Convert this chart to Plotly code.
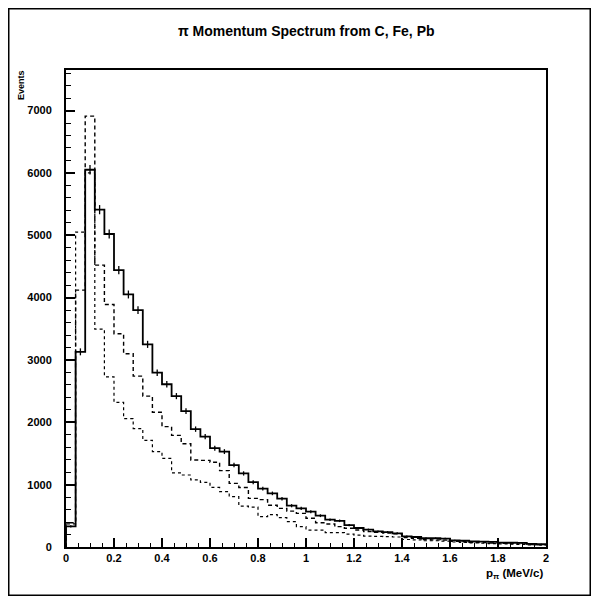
import numpy as np
import plotly.graph_objects as go

# Binning
x_min = 0.0
bin_width = 0.04
n_bins = 50

# Histogram contents
solid_counts = [330, 3130, 6050, 5410, 5020, 4440, 4050, 3800, 3250, 2795,
                2610, 2420, 2180, 1890, 1770, 1585, 1530, 1314, 1180, 1040,
                935, 860, 775, 662, 620, 566, 502, 438, 420, 352,
                305, 278, 250, 240, 220, 170, 160, 140, 140, 135,
                105, 100, 88, 85, 82, 70, 68, 65, 50, 45]
dashed_counts = [390, 4120, 6910, 4520, 3890, 3420, 3100, 2740, 2420, 2160,
                 1930, 1790, 1655, 1395, 1390, 1360, 1225, 1020, 955, 780,
                 760, 670, 620, 575, 540, 460, 390, 370, 326, 300,
                 272, 246, 235, 225, 210, 150, 140, 120, 115, 110,
                 90, 85, 75, 70, 65, 60, 55, 50, 40, 35]
dotted_counts = [370, 5050, 6000, 3494, 2730, 2320, 2060, 1900, 1710, 1530,
                 1420, 1190, 1155, 1075, 1035, 957, 887, 807, 657, 640,
                 486, 520, 470, 406, 326, 272, 272, 230, 230, 208,
                 192, 176, 170, 165, 160, 120, 115, 100, 100, 95,
                 80, 75, 65, 60, 55, 50, 45, 40, 35, 30]

x_ticks = [0, 0.2, 0.4, 0.6, 0.8, 1, 1.2, 1.4, 1.6, 1.8, 2]
x_tick_labels = ["0", "0.2", "0.4", "0.6", "0.8", "1", "1.2", "1.4", "1.6", "1.8", "2"]
y_ticks = [0, 1000, 2000, 3000, 4000, 5000, 6000, 7000]
y_tick_labels = ["0", "1000", "2000", "3000", "4000", "5000", "6000", "7000"]

edges = x_min + bin_width * np.arange(n_bins + 1)
centers = edges[:-1] + bin_width / 2


def step_xy(counts):
    xs = [edges[0]] + list(edges)
    ys = [0] + list(counts) + [counts[-1]]
    return xs, ys


fig = go.Figure()

for counts, dash, width in [(dotted_counts, "dot", 1.2),
                            (dashed_counts, "4px,3px", 1.4),
                            (solid_counts, "solid", 1.8)]:
    xs, ys = step_xy(counts)
    fig.add_trace(go.Scatter(x=xs, y=ys, mode="lines", line_shape="hv",
                             line=dict(color="black", width=width, dash=dash),
                             showlegend=False, hoverinfo="skip"))

fig.add_trace(go.Scatter(x=centers, y=solid_counts, mode="markers",
                         marker=dict(size=1, color="black"),
                         error_y=dict(type="data", array=np.sqrt(solid_counts),
                                      color="black", thickness=1.3, width=0),
                         showlegend=False, hoverinfo="skip"))

# page has an 8px body margin; figure sized to fill the window inside it
OFF = 8
W, H = 583, 588
L, T = 66 - OFF, 70 - OFF
pw, ph = 480, 477
R, B = W - L - pw, H - T - ph


def px_x(p):
    return (p - OFF - L) / pw


def px_y(p):
    return (T + ph - (p - OFF)) / ph


font_fam = "Liberation Sans, Arial, Helvetica, sans-serif"

fig.update_layout(
    width=W, height=H,
    margin=dict(l=L, r=R, t=T, b=B),
    paper_bgcolor="white", plot_bgcolor="white",
    font=dict(family=font_fam, color="black"),
    xaxis=dict(range=[0, 2], tickvals=x_ticks, ticktext=x_tick_labels,
               ticks="inside", ticklen=9, tickwidth=1.5, tickcolor="black",
               minor=dict(ticks="inside", ticklen=4.5, dtick=0.05, tickwidth=1.2, tickcolor="black"),
               showline=True, linewidth=2, linecolor="black", mirror=True,
               showgrid=False, zeroline=False,
               tickfont=dict(size=11, weight="bold", family=font_fam)),
    yaxis=dict(range=[0, 7650], tickvals=y_ticks, ticktext=y_tick_labels,
               ticks="inside", ticklen=9, tickwidth=1.5, tickcolor="black",
               minor=dict(ticks="inside", ticklen=4.5, dtick=200, tickwidth=1.2, tickcolor="black"),
               showline=True, linewidth=2, linecolor="black", mirror=True,
               showgrid=False, zeroline=False, ticklabelstandoff=10,
               tickfont=dict(size=11, weight="bold", family=font_fam)),
)

fig.add_annotation(text="π Momentum Spectrum from C, Fe, Pb",
                   xref="paper", yref="paper", x=0.5, y=px_y(31),
                   xanchor="center", yanchor="middle", showarrow=False,
                   font=dict(size=14, weight="bold", family=font_fam))
fig.add_annotation(text="Events", textangle=-90,
                   xref="paper", yref="paper", x=px_x(21), y=px_y(68),
                   xanchor="center", yanchor="top", showarrow=False,
                   font=dict(size=9, weight="bold", family=font_fam))
fig.add_annotation(text="p<sub>π</sub> (MeV/c)",
                   xref="paper", yref="paper", x=px_x(545), y=px_y(574),
                   xanchor="right", yanchor="middle", showarrow=False,
                   font=dict(size=11.5, weight="bold", family=font_fam))

fig.add_shape(type="rect", xref="paper", yref="paper",
              x0=px_x(OFF + 0.75), x1=px_x(OFF + W - 0.75),
              y0=px_y(OFF + H - 0.75), y1=px_y(OFF + 0.75),
              line=dict(color="black", width=1.5), layer="below")

fig.write_html("out.html")
